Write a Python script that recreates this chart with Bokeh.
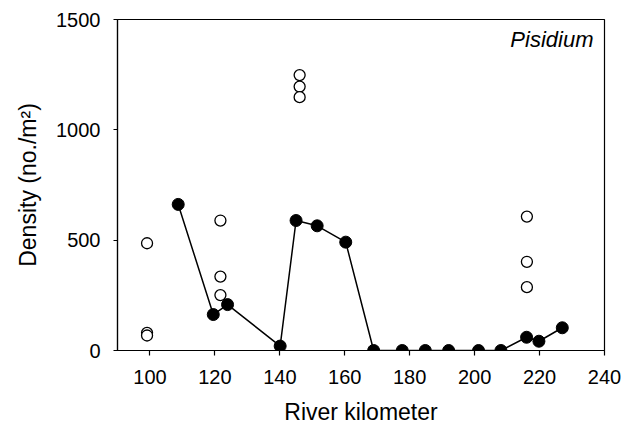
from bokeh.plotting import figure
from bokeh.models import Range1d, FixedTicker, Label
from bokeh.embed import file_html
from bokeh.resources import INLINE

# Filled circles (connected series)
filled_km = [108.7, 119.5, 123.9, 140.1, 145.0, 151.5, 160.3, 168.9, 177.7,
             184.8, 192.0, 201.2, 208.1, 216.0, 219.8, 227.0]
filled_density = [662, 163, 208, 20, 589, 565, 491, 0, 0, 0, 0, 0, 0, 60, 42, 103]

# Open circles (unconnected samples)
open_km = [99.1, 99.1, 99.1, 121.7, 121.7, 121.7, 146.1, 146.1, 146.1, 216.1, 216.1, 216.1]
open_density = [486, 80, 68, 589, 335, 251, 1248, 1196, 1148, 607, 402, 287]

x_ticks = [100, 120, 140, 160, 180, 200, 220, 240]
y_ticks = [0, 500, 1000, 1500]
taxon = "Pisidium"

FONT = "Liberation Sans"

p = figure(width=622, height=428, output_backend="svg", toolbar_location=None,
           x_range=Range1d(90, 240), y_range=Range1d(0, 1500),
           frame_width=487, frame_height=331)
p.min_border_left = 117
p.min_border_right = 18
p.min_border_top = 19
p.min_border_bottom = 78
p.background_fill_color = "white"
p.border_fill_color = "white"
p.outline_line_color = "black"
p.outline_line_width = 1.2
p.grid.visible = False

p.xaxis.ticker = FixedTicker(ticks=x_ticks)
p.yaxis.ticker = FixedTicker(ticks=y_ticks)
for ax in (p.xaxis[0], p.yaxis[0]):
    ax.axis_line_color = "black"
    ax.axis_line_width = 1.2
    ax.major_tick_line_color = "black"
    ax.major_tick_line_width = 1.2
    ax.major_tick_in = 0
    ax.minor_tick_line_color = None
    ax.major_label_text_font = FONT
    ax.major_label_text_font_size = "20px"
    ax.major_label_text_color = "black"
    ax.axis_label_text_font = FONT
    ax.axis_label_text_font_size = "23px"
    ax.axis_label_text_font_style = "normal"
    ax.axis_label_text_color = "black"

p.xaxis.major_tick_out = 5
p.yaxis.major_tick_out = 4
p.xaxis.major_label_standoff = 14
p.yaxis.major_label_standoff = 13
p.xaxis.axis_label = "River kilometer"
p.yaxis.axis_label = "Density (no./m\u00b2)"
p.xaxis.axis_label_standoff = 12
p.yaxis.axis_label_standoff = 12

p.line(filled_km, filled_density, line_color="black", line_width=1.5)
p.scatter(filled_km, filled_density, size=12, fill_color="black", line_color="black")
p.scatter(open_km, open_density, size=11, fill_color="white", line_color="black", line_width=1.3)

p.add_layout(Label(x=236.6, y=1468, text=taxon, text_font=FONT, text_font_size="22px",
                   text_font_style="italic", text_align="right", text_baseline="top",
                   text_color="black"))

open("out.html", "w").write(file_html(p, INLINE))
